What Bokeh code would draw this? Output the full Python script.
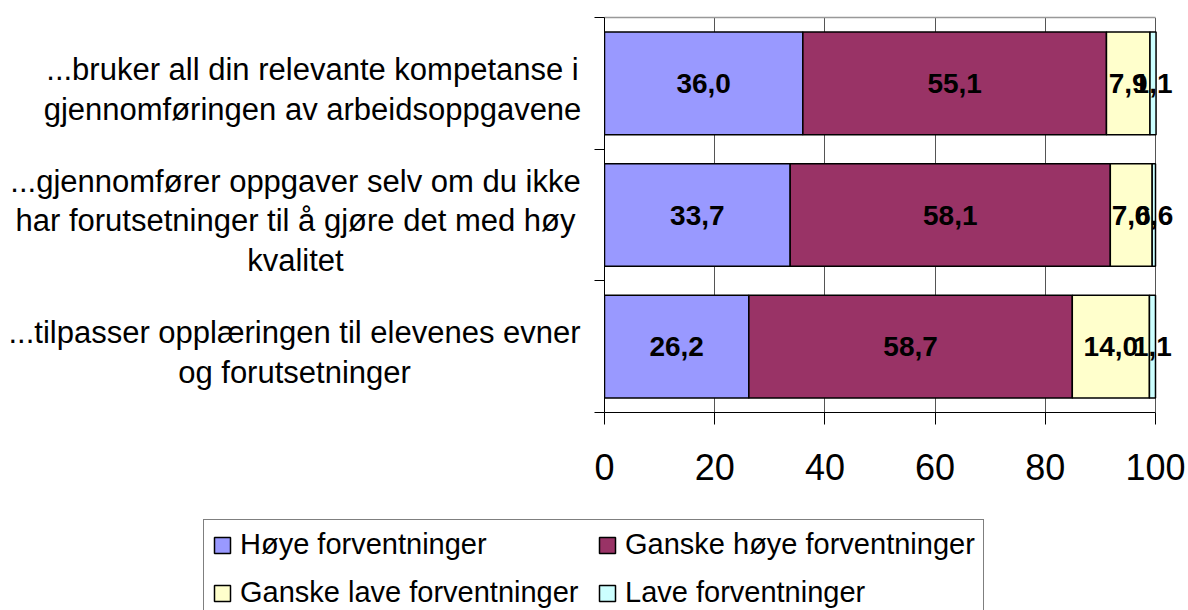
import numpy as np
from bokeh.plotting import figure
from bokeh.layouts import row, column
from bokeh.models import Range1d, FixedTicker, Legend, LegendItem, ColumnDataSource, LinearAxis
from bokeh.core.properties import value
from bokeh.embed import file_html
from bokeh.resources import INLINE

categories = [
    "...bruker all din relevante kompetanse i\ngjennomføringen av arbeidsoppgavene",
    "...gjennomfører oppgaver selv om du ikke\nhar forutsetninger til å gjøre det med høy\nkvalitet",
    "...tilpasser opplæringen til elevenes evner\nog forutsetninger",
]
series_names = ["Høye forventninger", "Ganske høye forventninger",
                "Ganske lave forventninger", "Lave forventninger"]
hoye = [36.0, 33.7, 26.2]
ganske_hoye = [55.1, 58.1, 58.7]
ganske_lave = [7.9, 7.6, 14.0]
lave = [1.1, 0.6, 1.1]
x_ticks = [0, 20, 40, 60, 80, 100]

colors = ["#9999FF", "#993366", "#FFFFCC", "#CCFFFF"]
FONT = "Liberation Sans"
# horizontal pixel offsets of the wrapped category-label blocks (style)
label_dx = [-272, -289, -290]

n = len(categories)
ypos = [n - i - 0.5 for i in range(n)]
boundaries = list(range(n + 1))

# layout constants (pixels)
TOTAL_W, TOTAL_H = 1188, 610
MAIN_W, MAIN_H = 604, 510
LEFT_W = TOTAL_W - MAIN_W
B_LEFT, B_RIGHT, B_TOP, B_BOTTOM = 20, 8, 17, 98
FRAME_W = MAIN_W - B_LEFT - B_RIGHT
X_END = x_ticks[-1] * FRAME_W / 551.0

yr = Range1d(0, n)

p = figure(width=MAIN_W, height=MAIN_H, output_backend="svg", toolbar_location=None,
           x_range=Range1d(0, X_END), y_range=yr,
           min_border_left=B_LEFT, min_border_right=B_RIGHT, min_border_top=B_TOP,
           min_border_bottom=B_BOTTOM)
p.background_fill_color = "white"
p.border_fill_color = "white"
p.outline_line_color = None

vals = np.array([hoye, ganske_hoye, ganske_lave, lave])
cum = np.cumsum(vals, axis=0)
lefts = cum - vals

sources = []
for k in range(len(series_names)):
    src = ColumnDataSource(dict(y=ypos, left=lefts[k], right=cum[k]))
    sources.append(src)
    p.hbar(y="y", left="left", right="right", height=0.78, source=src,
           fill_color=colors[k], line_color="black", line_width=1.5)

for k in range(len(series_names)):
    src = ColumnDataSource(dict(
        x=(lefts[k] + cum[k]) / 2, y=ypos,
        t=[f"{v:.1f}".replace(".", ",") for v in vals[k]]))
    p.text(x="x", y="y", text="t", source=src, text_align="center",
           text_baseline="middle", text_font=value(FONT), text_font_style="bold",
           text_font_size="28px", text_color="black")

# axes
p.xaxis.ticker = FixedTicker(ticks=x_ticks)
p.xaxis.bounds = (x_ticks[0], x_ticks[-1])
p.xaxis.major_tick_in = 0
p.xaxis.major_tick_out = 12
p.xaxis.minor_tick_line_color = None
p.xaxis.axis_line_color = "black"
p.xaxis.major_tick_line_color = "black"
p.xaxis.major_label_text_font = FONT
p.xaxis.major_label_text_font_size = "36px"
p.xaxis.major_label_text_color = "black"
p.xaxis.major_label_standoff = 29

p.yaxis.ticker = FixedTicker(ticks=boundaries)
p.yaxis.major_tick_in = 0
p.yaxis.major_tick_out = 10
p.yaxis.minor_tick_line_color = None
p.yaxis.axis_line_color = "black"
p.yaxis.major_tick_line_color = "black"
p.yaxis.major_label_text_font_size = "0px"
p.yaxis.major_label_text_color = None
p.yaxis.major_label_standoff = 0

top_axis = LinearAxis(ticker=FixedTicker(ticks=[]), bounds=(x_ticks[0], x_ticks[-1]),
                      axis_line_color="#999999", axis_line_width=1.5,
                      major_tick_line_color=None, minor_tick_line_color=None,
                      major_label_text_font_size="0px", major_label_standoff=0)
p.add_layout(top_axis, "above")

p.xgrid.ticker = FixedTicker(ticks=x_ticks)
p.xgrid.grid_line_color = "#555555"
p.ygrid.grid_line_color = None

# category labels figure (left)
lf = figure(width=LEFT_W, height=MAIN_H, output_backend="svg", toolbar_location=None,
            x_range=Range1d(-1, 0), y_range=yr, x_axis_type=None, y_axis_type=None,
            min_border_left=0, min_border_right=0, min_border_top=B_TOP,
            min_border_bottom=B_BOTTOM)
lf.outline_line_color = None
csrc = ColumnDataSource(dict(x=[0] * n, y=ypos, t=categories, dx=label_dx))
lf.text(x="x", y="y", text="t", source=csrc, x_offset="dx", y_offset=6,
        text_align="center", text_baseline="middle", text_font=value(FONT),
        text_font_size="31px", text_line_height=1.14, text_color="black")

# legend figure (bottom)
gf = figure(width=TOTAL_W, height=TOTAL_H - MAIN_H, output_backend="svg",
            toolbar_location=None, x_range=Range1d(0, 1), y_range=Range1d(0, 1),
            x_axis_type=None, y_axis_type=None, min_border=0)
gf.outline_line_color = None
legend_renderers = []
for k in range(len(series_names)):
    r = gf.hbar(y="y", left="left", right="right", height=0.78, source=sources[k],
                fill_color=colors[k], line_color="black", line_width=1.5, visible=False)
    legend_renderers.append(r)
items = [LegendItem(label=series_names[k], renderers=[legend_renderers[k]]) for k in range(4)]
legend = Legend(items=items, location=(203, -8), orientation="horizontal", ncols=2,
                label_text_font=FONT, label_text_font_size="29px", label_text_color="black",
                glyph_width=20, glyph_height=20, label_standoff=8, label_width=342,
                padding=8, spacing=15, click_policy="none",
                inactive_fill_alpha=0.0,
                border_line_color="black", border_line_width=1,
                background_fill_color="white", background_fill_alpha=1.0)
gf.add_layout(legend, "center")

layout = column(row(lf, p), gf)
open("out.html", "w").write(file_html(layout, INLINE))
